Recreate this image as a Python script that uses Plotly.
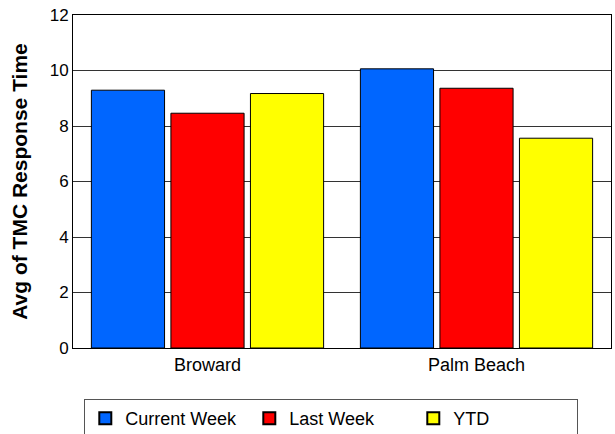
import plotly.graph_objects as go

categories = ["Broward", "Palm Beach"]
current_week = [9.29, 10.06]
last_week = [8.46, 9.36]
ytd = [9.17, 7.56]
series_names = ["Current Week", "Last Week", "YTD"]
colors = ["#0066FF", "#FF0000", "#FFFF00"]
y_ticks = [0, 2, 4, 6, 8, 10, 12]

fig = go.Figure()
for name, vals, col in zip(series_names, [current_week, last_week, ytd], colors):
    fig.add_trace(go.Bar(
        x=categories, y=vals, name=name,
        marker=dict(color=col, line=dict(color="black", width=1)),
    ))

fig.update_layout(
    width=615, height=434,
    margin=dict(l=73, r=4, t=15, b=86, autoexpand=False),
    paper_bgcolor="white", plot_bgcolor="white",
    font=dict(family="Liberation Sans, Arial, sans-serif", size=17, color="black"),
    barmode="group", bargap=0.113, bargroupgap=0.08,
    showlegend=True,
    legend=dict(
        orientation="h", x=0.021, xanchor="left", y=-0.153, yanchor="top",
        bordercolor="#555555", borderwidth=1,
        entrywidth=119, entrywidthmode="pixels",
        font=dict(size=18), itemsizing="constant",
        traceorder="normal",
    ),
    xaxis=dict(
        showline=True, linecolor="black", linewidth=1, mirror=True,
        ticks="", tickfont=dict(size=18), automargin=False,
    ),
    yaxis=dict(
        range=[0, 12], tickvals=y_ticks,
        showline=True, linecolor="black", linewidth=1, mirror=True,
        showgrid=True, gridcolor="#333333", gridwidth=1,
        ticks="", tickfont=dict(size=17), zeroline=False, automargin=False,
        title=dict(text="<b>Avg of TMC Response Time</b>", font=dict(size=21), standoff=16),
    ),
)

fig.write_html(
    "out.html",
    config={"displayModeBar": False},
    post_script="document.body.style.margin='0';document.body.style.padding='0';",
)
